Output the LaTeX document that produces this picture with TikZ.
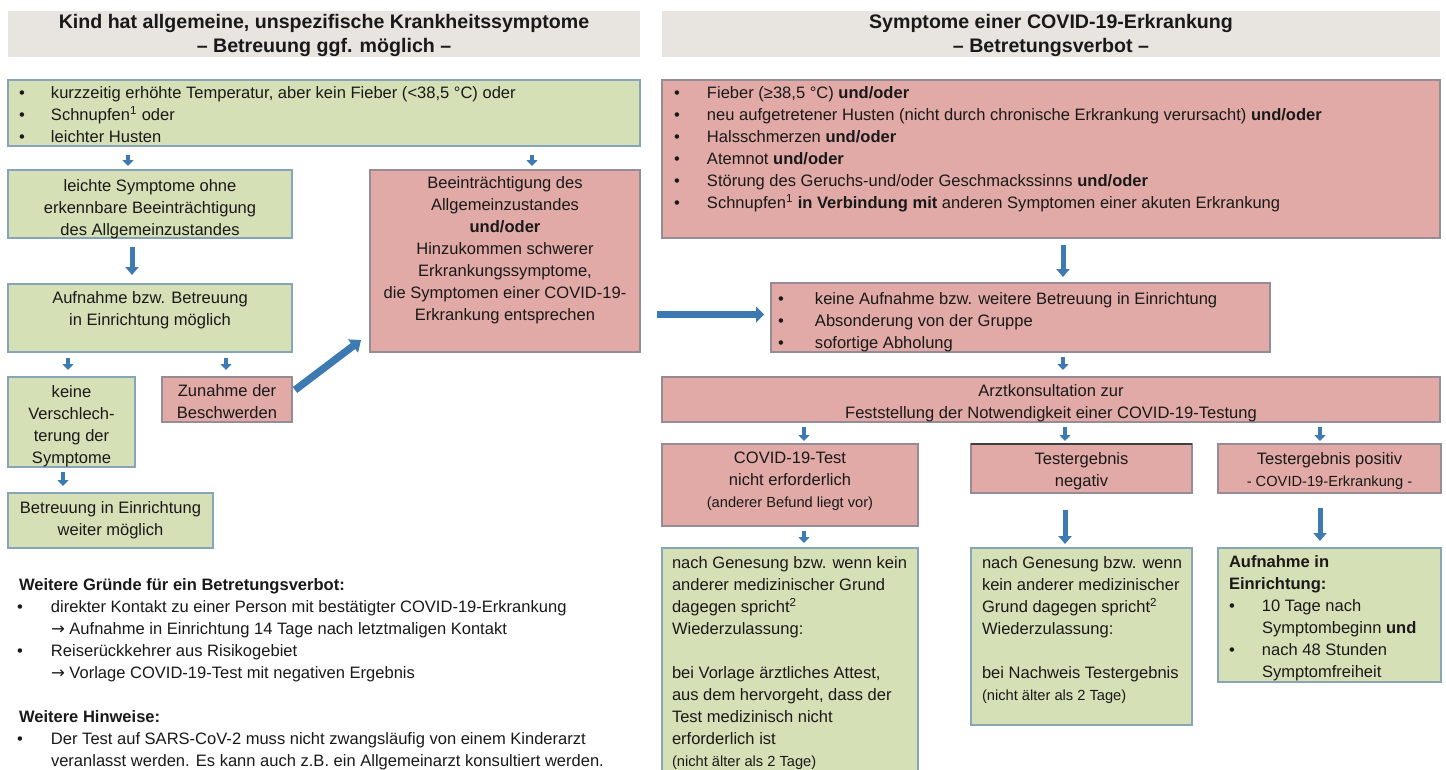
\documentclass[tikz,border=0pt]{standalone}
\usepackage{fontspec}
\setmainfont{Liberation Sans}
\newfontfamily\dejavu{DejaVu Sans}
\usetikzlibrary{arrows.meta,calc}
\definecolor{gfill}{RGB}{214,224,182}
\definecolor{gline}{RGB}{135,165,185}
\definecolor{rfill}{RGB}{225,170,166}
\definecolor{rline}{RGB}{150,140,150}
\definecolor{hfill}{RGB}{232,229,225}
\definecolor{arrowc}{RGB}{62,122,178}
\definecolor{txt}{RGB}{25,25,25}
\newcommand\bodyf{\fontsize{12.4}{16.5}\selectfont}
\newcommand\smallf{\fontsize{11}{16.5}\selectfont}
\newcommand\hdrf{\fontsize{14.7}{18}\selectfont\bfseries}
\newcommand\bl[2]{\par\noindent\hspace*{#1}\makebox[#2][l]{\textbullet}}
\newcommand\sh[2]{\vspace*{#1}#2\par\vspace*{-#1}}
\newcommand\rarr{{\dejavu →}}
\newcommand\tb[8]{\node[#1,anchor=north west,inner sep=0pt,outer sep=0pt] (#2) at (#3,#4)
  {\parbox[c][\dimexpr(#6pt-#4pt)*3/4\relax][#7]{\dimexpr(#5pt-#3pt)*3/4\relax}{\bodyf #8}};}
\tikzset{
  gbox/.style={draw=gline, fill=gfill, line width=1pt, text=txt},
  rbox/.style={draw=rline, fill=rfill, line width=1pt, text=txt},
  hdr/.style={fill=hfill, text=txt},
  plain/.style={text=txt},
  arr/.style={draw=arrowc, line width=3pt, -{Triangle[width=8.25pt,length=4.5pt]}},
  marr/.style={draw=arrowc, line width=3.75pt, -{Triangle[width=9.75pt,length=6pt]}},
  harr/.style={draw=arrowc, line width=5.25pt, -{Triangle[width=12pt,length=6pt]}},
  barr/.style={draw=arrowc, line width=5.5pt, -{Triangle[width=12pt,length=7.5pt]}},
}
\begin{document}
\begin{tikzpicture}[x=0.75pt,y=-0.75pt]
\useasboundingbox (0,0) rectangle (1446,769);
\fill[white] (0,0) rectangle (1446,769);
% headers
\tb{hdr}{hL}{8}{11}{640}{57}{c}{\sh{1.5pt}{\hdrf\centering\strut Kind hat allgemeine, unspezifische Krankheitssymptome\\ – Betreuung ggf. möglich –\strut}}
\tb{hdr}{hR}{662}{11}{1440}{57}{c}{\sh{1.5pt}{\hdrf\centering\strut Symptome einer COVID-19-Erkrankung\\ – Betretungsverbot –\strut}}
% left column
\tb{gbox}{g1}{8}{80}{640}{146}{c}{\sh{2.25pt}{%
\bl{8.25pt}{24pt}\strut kurzzeitig erhöhte Temperatur, aber kein Fieber (<38,5 °C) oder
\bl{8.25pt}{24pt}Schnupfen\textsuperscript{1} oder
\bl{8.25pt}{24pt}leichter Husten\strut}}
\tb{gbox}{g2}{8}{170}{292}{238}{c}{\sh{3.75pt}{\centering\strut leichte Symptome ohne\\ erkennbare Beeinträchtigung\\ des Allgemeinzustandes\strut}}
\tb{rbox}{r2}{370}{170}{640}{352}{t}{\centering\vspace*{1.95pt}\strut Beeinträchtigung des\\ Allgemeinzustandes\\ \textbf{und/oder}\\ Hinzukommen schwerer\\ Erkrankungssymptome,\\ die Symptomen einer COVID-19-\\ Erkrankung entsprechen\strut}
\tb{gbox}{g3}{8}{284}{292}{352}{t}{\centering\vspace*{2.7pt}\strut Aufnahme bzw. Betreuung\\ in Einrichtung möglich\strut}
\tb{gbox}{g4}{8}{377}{135}{467}{c}{\sh{3pt}{\centering\strut keine\\ Verschlech-\\ terung der\\ Symptome\strut}}
\tb{rbox}{r3}{162}{377}{292}{422}{c}{\sh{3pt}{\centering\strut Zunahme der\\ Beschwerden\strut}}
\tb{gbox}{g5}{8}{493}{213}{548}{c}{\centering\strut Betreuung in Einrichtung\\ weiter möglich\strut}
% right column
\tb{rbox}{r1}{662}{80}{1440}{238}{t}{\vspace*{2.3pt}%
\bl{9pt}{24.75pt}\strut Fieber (≥38,5 °C) \textbf{und/oder}
\bl{9pt}{24.75pt}neu aufgetretener Husten (nicht durch chronische Erkrankung verursacht) \textbf{und/oder}
\bl{9pt}{24.75pt}Halsschmerzen \textbf{und/oder}
\bl{9pt}{24.75pt}Atemnot \textbf{und/oder}
\bl{9pt}{24.75pt}Störung des Geruchs-und/oder Geschmackssinns \textbf{und/oder}
\bl{9pt}{24.75pt}Schnupfen\textsuperscript{1} \textbf{in Verbindung mit} anderen Symptomen einer akuten Erkrankung\strut}
\tb{rbox}{r4}{771}{283}{1270}{352}{c}{\sh{3.75pt}{%
\bl{5.25pt}{27.75pt}\strut keine Aufnahme bzw. weitere Betreuung in Einrichtung
\bl{5.25pt}{27.75pt}Absonderung von der Gruppe
\bl{5.25pt}{27.75pt}sofortige Abholung\strut}}
\tb{rbox}{r5}{662}{377}{1440}{422}{c}{\sh{3pt}{\centering\strut Arztkonsultation zur\\ Feststellung der Notwendigkeit einer COVID-19-Testung\strut}}
\tb{rbox}{r6}{662}{444}{918}{526}{t}{\centering\vspace*{2.7pt}\strut COVID-19-Test\\ nicht erforderlich\\ {\smallf (anderer Befund liegt vor)}\strut}
\tb{rbox}{r7}{971}{444}{1192}{493}{c}{\sh{2.25pt}{\centering\strut Testergebnis\\ negativ\strut}}
\draw[black!75, line width=1pt] (r7.north west) -- (r7.north east);
\tb{rbox}{r8}{1218}{444}{1441}{493}{c}{\sh{2.25pt}{\centering\strut Testergebnis positiv\\ {\smallf - COVID-19-Erkrankung -}\strut}}
\tb{gbox}{g6}{662}{548}{918}{775}{t}{\leftskip=7.5pt\rightskip=0pt plus 1fil\vspace*{3.45pt}\strut nach Genesung bzw. wenn kein\\ anderer medizinischer Grund\\ dagegen spricht\textsuperscript{2}\\ Wiederzulassung:\\[16.5pt] bei Vorlage ärztliches Attest,\\ aus dem hervorgeht, dass der\\ Test medizinisch nicht\\ erforderlich ist\\ {\smallf (nicht älter als 2 Tage)}\strut}
\tb{gbox}{g7}{971}{548}{1192}{725}{t}{\leftskip=8.25pt\rightskip=0pt plus 1fil\vspace*{3.45pt}\strut nach Genesung bzw. wenn\\ kein anderer medizinischer\\ Grund dagegen spricht\textsuperscript{2}\\ Wiederzulassung:\\[16.5pt] bei Nachweis Testergebnis\\ {\smallf (nicht älter als 2 Tage)}\strut}
\tb{gbox}{g8}{1218}{548}{1441}{682}{t}{\vspace*{2.7pt}%
\noindent\hspace*{8.25pt}\strut\textbf{Aufnahme in}\\ \hspace*{8.25pt}\textbf{Einrichtung:}
\bl{8.25pt}{24.75pt}10 Tage nach\\ \hspace*{33pt}Symptombeginn \textbf{und}
\bl{8.25pt}{24.75pt}nach 48 Stunden\\ \hspace*{33pt}Symptomfreiheit\strut}
% notes
\tb{plain}{notes}{8}{570}{700}{769}{t}{\vspace*{3.45pt}%
\noindent\hspace*{8.25pt}\strut\textbf{Weitere Gründe für ein Betretungsverbot:}
\bl{6.75pt}{25.5pt}direkter Kontakt zu einer Person mit bestätigter COVID-19-Erkrankung\\ \hspace*{32.25pt}\rarr{} Aufnahme in Einrichtung 14 Tage nach letztmaligen Kontakt
\bl{6.75pt}{25.5pt}Reiserückkehrer aus Risikogebiet\\ \hspace*{32.25pt}\rarr{} Vorlage COVID-19-Test mit negativen Ergebnis
\par\vspace{16.5pt}
\noindent\hspace*{8.25pt}\textbf{Weitere Hinweise:}
\bl{6.75pt}{25.5pt}Der Test auf SARS-CoV-2 muss nicht zwangsläufig von einem Kinderarzt\\ \hspace*{32.25pt}veranlasst werden. Es kann auch z.B. ein Allgemeinarzt konsultiert werden.\strut}
% x positions of arrows
\coordinate (xa1) at (128,0);
\coordinate (xa2) at (532,0);
\coordinate (xa3) at (132,0);
\coordinate (xa4) at (68,0);
\coordinate (xa5) at (226,0);
\coordinate (xa6) at (63,0);
\coordinate (xr1) at (1063,0);
\coordinate (xc1) at (804,0);
\coordinate (xc2) at (1065,0);
\coordinate (xc3) at (1320,0);
% arrows
\draw[arr, shorten <=6.75pt, shorten >=3pt] (g1.south -| xa1) -- (g2.north -| xa1);
\draw[arr, shorten <=6.75pt, shorten >=3pt] (g1.south -| xa2) -- (r2.north -| xa2);
\draw[marr, shorten <=6.75pt, shorten >=6.75pt] (g2.south -| xa3) -- (g3.north -| xa3);
\draw[arr, shorten <=4.5pt, shorten >=5.25pt] (g3.south -| xa4) -- (g4.north -| xa4);
\draw[arr, shorten <=4.5pt, shorten >=5.25pt] (g3.south -| xa5) -- (r3.north -| xa5);
\draw[arr, shorten <=3.75pt, shorten >=5.25pt] (g4.south -| xa6) -- (g5.north -| xa6);
\draw[barr] ($(r3.north east)+(3,13)$) -- ($(r2.south west)+(-9,-12)$);
\draw[harr] ($(r2.east |- r4.west)+(17,-3)$) -- ($(r4.west)+(-7,-3)$);
\draw[marr, shorten <=5.25pt, shorten >=4.5pt] (r1.south -| xr1) -- (r4.north -| xr1);
\draw[arr, shorten <=3.75pt, shorten >=5.25pt] (r4.south -| xr1) -- (r5.north -| xr1);
\draw[arr, shorten <=3.75pt, shorten >=2.25pt] (r5.south -| xc1) -- (r6.north -| xc1);
\draw[arr, shorten <=3.75pt, shorten >=2.25pt] (r5.south -| xc2) -- (r7.north -| xc2);
\draw[arr, shorten <=3.75pt, shorten >=2.25pt] (r5.south -| xc3) -- (r8.north -| xc3);
\draw[arr, shorten <=3.75pt, shorten >=3.75pt] (r6.south -| xc1) -- (g6.north -| xc1);
\draw[marr, shorten <=12.75pt, shorten >=3pt] (r7.south -| xc2) -- (g7.north -| xc2);
\draw[marr, shorten <=11.25pt, shorten >=5.25pt] (r8.south -| xc3) -- (g8.north -| xc3);
\end{tikzpicture}
\end{document}
